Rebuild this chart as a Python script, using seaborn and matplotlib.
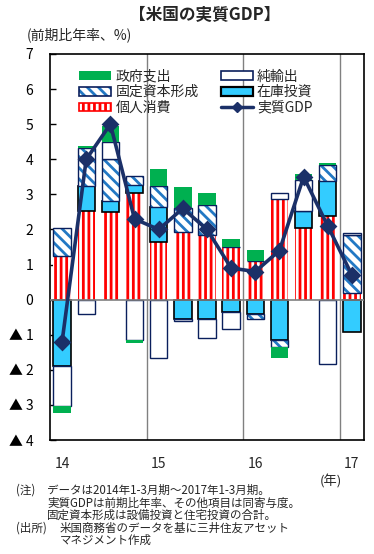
import numpy as np
import matplotlib
matplotlib.use("Agg")
import matplotlib.pyplot as plt
import seaborn as sns
from matplotlib.lines import Line2D
from matplotlib.patches import Patch

# data: 2014Q1 .. 2017Q1, contributions to real GDP growth (annualized, %pt)
quarters = ["14Q1", "14Q2", "14Q3", "14Q4", "15Q1", "15Q2", "15Q3", "15Q4",
            "16Q1", "16Q2", "16Q3", "16Q4", "17Q1"]
consumption = [1.25, 2.54, 2.50, 3.04, 1.63, 1.93, 1.85, 1.50, 1.10, 2.86, 2.03, 2.39, 0.20]
inventory = [-1.90, 0.69, 0.32, 0.24, 1.00, -0.54, -0.56, -0.36, -0.42, -1.15, 0.51, 1.00, -0.93]
fixed_capital = [0.80, 1.09, 1.18, 0.23, 0.60, 0.69, 0.84, 0.00, -0.14, -0.20, 0.00, 0.46, 1.64]
net_exports = [-1.13, -0.42, 0.50, -1.15, -1.65, -0.08, -0.54, -0.49, 0.00, 0.19, 0.88, -1.82, 0.07]
government = [-0.21, 0.05, 0.46, -0.08, 0.49, 0.58, 0.36, 0.22, 0.31, -0.30, 0.15, 0.03, 0.00]
real_gdp = [-1.2, 4.0, 5.0, 2.3, 2.0, 2.6, 2.0, 0.9, 0.8, 1.4, 3.5, 2.1, 0.7]

year_ticks = [0, 4, 8, 12]
year_labels = ["14", "15", "16", "17"]
y_ticks = list(range(-4, 8))
y_labels = [f"▲ {-v}" if v < 0 else str(v) for v in y_ticks]

RED = "#FF0000"
CYAN = "#33CCFF"
GREEN = "#00B050"
STRIPE = "#2278C4"
NAVY = "#0A1F5C"
GDP_COL = "#1B3068"

sns.set_theme(style="white")
plt.rcParams["font.family"] = ["Noto Sans CJK JP", "DejaVu Sans"]
plt.rcParams["hatch.linewidth"] = 2.0

fig = plt.figure(figsize=(3.74, 5.54), dpi=100)
ax = fig.add_axes([50 / 374, 1 - 440 / 554, 314 / 374, 386 / 554])

# stacking: positives upward, negatives downward, same order
vals = np.array([consumption, inventory, fixed_capital, net_exports, government])
pos = np.clip(vals, 0, None)
neg = np.clip(vals, None, 0)
pos_b = np.vstack([np.zeros(len(quarters)), np.cumsum(pos, axis=0)[:-1]])
neg_b = np.vstack([np.zeros(len(quarters)), np.cumsum(neg, axis=0)[:-1]])
bottoms = np.where(vals >= 0, pos_b, neg_b)

W = 0.72
styles = [
    [dict(color=RED, edgecolor="white", linewidth=0, hatch="|||")],
    [dict(color=CYAN, edgecolor="black", linewidth=1.2)],
    [dict(color="white", edgecolor=STRIPE, linewidth=0, hatch="\\\\\\"),
     dict(color=NAVY, fill=False, linewidth=1.0)],
    [dict(color="white", edgecolor=NAVY, linewidth=1.0)],
    [dict(color=GREEN, edgecolor=GREEN, linewidth=0)],
]
for i, st in enumerate(styles):
    for kw in st:
        sns.barplot(x=quarters, y=vals[i], bottom=bottoms[i], width=W,
                    errorbar=None, saturation=1, ax=ax, zorder=2, **kw)

for xv in [3.5, 7.5, 11.5]:
    ax.axvline(xv, color="#808080", lw=1, zorder=1)
ax.axhline(0, color="#808080", lw=1.2, zorder=3)

sns.pointplot(x=quarters, y=real_gdp, color=GDP_COL, markers="D",
              linestyles="-", errorbar=None, ax=ax, markersize=7,
              linewidth=2.6, zorder=5)

ax.set_xlim(-0.5, len(quarters) - 0.5)
ax.set_ylim(-4, 7)
ax.set_yticks(y_ticks)
ax.set_yticklabels(y_labels)
ax.set_xticks(year_ticks)
ax.set_xticklabels(year_labels)
ax.set_xlabel("")
ax.set_ylabel("")
ax.tick_params(axis="y", direction="in", length=4, width=1, left=True,
               pad=12, labelsize=10, colors="black")
ax.tick_params(axis="x", length=0, pad=12, labelsize=10)
for sp in ax.spines.values():
    sp.set_color("black")
    sp.set_linewidth(1.2)

legend = {
    "政府支出": Patch(facecolor=GREEN, edgecolor=GREEN, lw=0),
    "固定資本形成": (Patch(facecolor="white", edgecolor=STRIPE, hatch="\\\\\\", lw=0),
                 Patch(facecolor="none", edgecolor=NAVY, lw=1.2)),
    "個人消費": (Patch(facecolor=RED, edgecolor="white", hatch="|||", lw=0),
             Patch(facecolor="none", edgecolor=RED, lw=1.2)),
    "純輸出": Patch(facecolor="white", edgecolor=NAVY, lw=1.2),
    "在庫投資": Patch(facecolor=CYAN, edgecolor="black", lw=1.6),
    "実質GDP": Line2D([0], [0], color=GDP_COL, marker="D", lw=2.5, markersize=5),
}
ax.legend(list(legend.values()), list(legend.keys()), ncol=2, frameon=False,
          loc="upper left", bbox_to_anchor=(0.062, 0.985), fontsize=10,
          handlelength=2.3, handleheight=0.6, handletextpad=0.3,
          labelspacing=0.12, columnspacing=1.6, borderpad=0.2)

fig.text(205 / 374, 1 - 15 / 554, "【米国の実質GDP】", ha="center", va="center",
         fontsize=12, fontweight="bold")
fig.text(27 / 374, 1 - 35 / 554, "(前期比年率、%)", ha="left", va="center", fontsize=10)
fig.text(331 / 374, 1 - 482 / 554, "(年)", ha="center", va="center", fontsize=9.5)

notes = [
    (16, 490, "(注)"),
    (47, 490, "データは2014年1-3月期～2017年1-3月期。"),
    (47, 503, "実質GDPは前期比年率、その他項目は同寄与度。"),
    (47, 515, "固定資本形成は設備投資と住宅投資の合計。"),
    (16, 528, "(出所)"),
    (60, 528, "米国商務省のデータを基に三井住友アセット"),
    (60, 540, "マネジメント作成"),
]
for x, y, s in notes:
    fig.text(x / 374, 1 - y / 554, s, ha="left", va="center", fontsize=8.3)

fig.savefig("out.png", dpi=100)
